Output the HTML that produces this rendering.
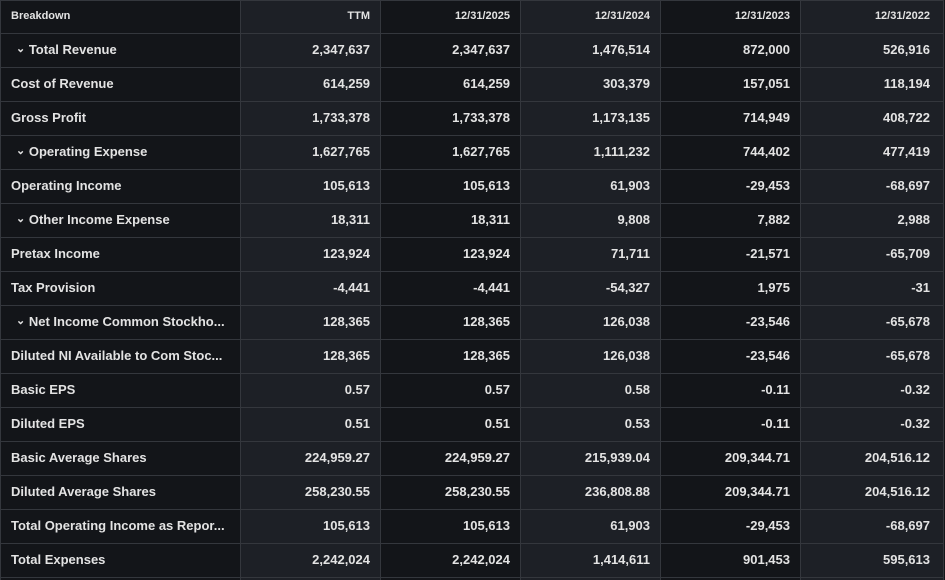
<!DOCTYPE html>
<html><head><style>
html,body{margin:0;padding:0;background:#131519;width:945px;height:580px;overflow:hidden}
body{font-family:"Liberation Sans",sans-serif;color:#e3e3e3;font-weight:bold}
.col{position:absolute;top:0;height:580px;border-left:1px solid #34373d}
.row{position:absolute;left:0;width:943px;border-top:1px solid #34373d}
.c{position:absolute;font-size:13px;white-space:nowrap}
.h{font-size:11px}
</style></head><body>
<div class="col" style="left:0;width:240px;background:#131519"></div>
<div class="col" style="left:240px;width:140px;background:#1d2026"></div>
<div class="col" style="left:380px;width:140px;background:#131519"></div>
<div class="col" style="left:520px;width:140px;background:#1d2026"></div>
<div class="col" style="left:660px;width:140px;background:#131519"></div>
<div class="col" style="left:800px;width:142px;background:#1d2026;border-right:1px solid #34373d"></div>
<div class="row" style="top:0"></div>
<div id="t"></div>
<script>
const rows=[
["Breakdown","TTM","12/31/2025","12/31/2024","12/31/2023","12/31/2022"],
["⌄ Total Revenue","2,347,637","2,347,637","1,476,514","872,000","526,916"],
["Cost of Revenue","614,259","614,259","303,379","157,051","118,194"],
["Gross Profit","1,733,378","1,733,378","1,173,135","714,949","408,722"],
["⌄ Operating Expense","1,627,765","1,627,765","1,111,232","744,402","477,419"],
["Operating Income","105,613","105,613","61,903","-29,453","-68,697"],
["⌄ Other Income Expense","18,311","18,311","9,808","7,882","2,988"],
["Pretax Income","123,924","123,924","71,711","-21,571","-65,709"],
["Tax Provision","-4,441","-4,441","-54,327","1,975","-31"],
["⌄ Net Income Common Stockho...","128,365","128,365","126,038","-23,546","-65,678"],
["Diluted NI Available to Com Stoc...","128,365","128,365","126,038","-23,546","-65,678"],
["Basic EPS","0.57","0.57","0.58","-0.11","-0.32"],
["Diluted EPS","0.51","0.51","0.53","-0.11","-0.32"],
["Basic Average Shares","224,959.27","224,959.27","215,939.04","209,344.71","204,516.12"],
["Diluted Average Shares","258,230.55","258,230.55","236,808.88","209,344.71","204,516.12"],
["Total Operating Income as Repor...","105,613","105,613","61,903","-29,453","-68,697"],
["Total Expenses","2,242,024","2,242,024","1,414,611","901,453","595,613"]];
const rights=[370,510,650,790,930];
let h="";
rows.forEach((r,i)=>{
 const top=i==0?0:33+(i-1)*34;
 const ht=i==0?33:34;
 if(i>0)h+=`<div class="row" style="top:${top}px"></div>`;
 const cy=top+ht/2-8;
 const cls=i==0?"c h":"c";
 const lab=r[0].startsWith("⌄")?`<span style="font-size:11px;position:relative;top:-2px">⌄</span> `+r[0].slice(2):r[0];
 h+=`<div class="${cls}" style="left:${r[0].startsWith("⌄")?16:11}px;top:${cy+(i==0?1:0)}px">${lab}</div>`;
 for(let j=1;j<6;j++)h+=`<div class="${cls}" style="right:${945-rights[j-1]}px;top:${cy+(i==0?1:0)}px">${r[j]}</div>`;
});
h+=`<div class="row" style="top:577px"></div>`;
document.getElementById("t").innerHTML=h;
</script>
</body></html>
